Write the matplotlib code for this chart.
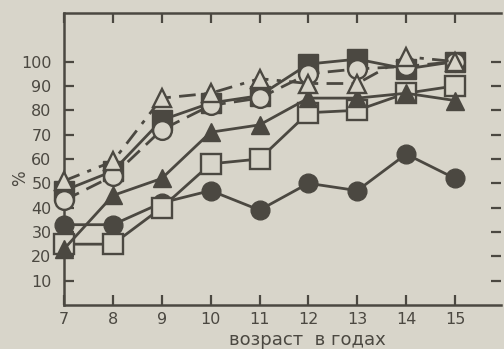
import matplotlib.pyplot as plt

# ages on x axis
ages = [7, 8, 9, 10, 11, 12, 13, 14, 15]

# series (percent)
filled_circle = [33, 33, 42, 47, 39, 50, 47, 62, 52]
open_square = [25, 25, 40, 58, 60, 79, 80, 87, 90]
filled_triangle = [23, 45, 52, 71, 74, 85, 85, 87, 84]
filled_square = [47, 55, 76, 83, 86, 99, 101, 97, 100]
open_circle = [43, 53, 72, 82, 85, 95, 97, 98, 100]
open_triangle = [51, 59, 85, 87, 93, 91, 91, 102, 100]

yticks = [10, 20, 30, 40, 50, 60, 70, 80, 90, 100]

bg = '#d8d5ca'
ink = '#4b4841'

fig = plt.figure(figsize=(5.04, 3.49), dpi=100)
fig.patch.set_facecolor(bg)
ax = fig.add_axes([0.127, 0.126, 0.868, 0.837])
ax.set_facecolor(bg)

lw = 2.0
ms = 13.5

ax.plot(ages, filled_circle, '-', color=ink, lw=lw, marker='o', ms=ms,
        mfc=ink, mec=ink, zorder=2, clip_on=False)
ax.plot(ages, open_square, '-', color=ink, lw=lw, marker='s', ms=ms + 1,
        mfc=bg, mec=ink, mew=1.7, zorder=3, clip_on=False)
ax.plot(ages, filled_triangle, '-', color=ink, lw=lw, marker='^', ms=ms,
        mfc=ink, mec=ink, zorder=4, clip_on=False)
ax.plot(ages, filled_square, '-', color=ink, lw=lw, marker='s', ms=ms + 1,
        mfc=ink, mec=ink, zorder=5, clip_on=False)
ax.plot(ages, open_circle, color=ink, lw=lw, ls=(0, (6, 3)), marker='o', ms=ms,
        mfc=bg, mec=ink, mew=1.7, zorder=6, clip_on=False)
ax.plot(ages, open_triangle, color=ink, lw=lw, ls=(0, (6, 3, 1.5, 3)), marker='^',
        ms=ms, mfc=bg, mec=ink, mew=1.7, zorder=7, clip_on=False)

ax.set_xlim(7, 15.95)
ax.set_ylim(0, 120)
ax.set_xticks(ages)
ax.set_yticks(yticks)

for s in ['left', 'bottom', 'top']:
    ax.spines[s].set_color(ink)
    ax.spines[s].set_linewidth(1.8)
ax.spines['right'].set_visible(False)

ax.tick_params(axis='both', direction='in', color=ink, labelcolor=ink,
               labelsize=11.5, width=1.6, length=7)
ax.tick_params(axis='y', left=True, right=True, pad=9)
ax.tick_params(axis='x', bottom=True, top=True, pad=5)

fig.text(0.04, 0.49, '%', rotation=90, color=ink, fontsize=12,
         ha='center', va='center')
fig.text(0.61, 0.027, 'возраст  в годах', color=ink, fontsize=13,
         ha='center', va='center')

fig.savefig('out.png', dpi=100, facecolor=bg)
